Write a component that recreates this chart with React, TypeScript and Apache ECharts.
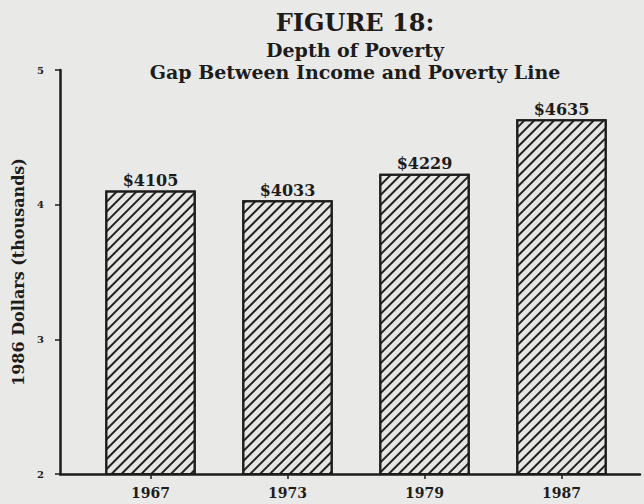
import React, { useEffect, useRef } from "react";
import * as echarts from "echarts";

// Poverty gap, 1986 dollars (thousands)
const years = ["1967", "1973", "1979", "1987"];
const gapThousands = [4.105, 4.033, 4.229, 4.635];
const gapLabels = ["$4105", "$4033", "$4229", "$4635"];
const yTicks = [2, 3, 4, 5];

const serif = "'DejaVu Serif', 'Liberation Serif', serif";
const ink = "#1c1c1c";

export default function App() {
  const ref = useRef<HTMLDivElement>(null);

  useEffect(() => {
    if (!ref.current) return;
    const chart = echarts.init(ref.current, null, { renderer: "svg" });
    chart.setOption({
      animation: false,
      backgroundColor: "#e9e9e7",
      title: [
        {
          text: "FIGURE 18:",
          left: 350,
          textAlign: "center",
          top: 5,
          textStyle: { fontFamily: serif, fontWeight: "bold", fontSize: 24, color: ink },
        },
        {
          text: "Depth of Poverty\nGap Between Income and Poverty Line",
          left: 350,
          textAlign: "center",
          top: 34,
          textStyle: {
            fontFamily: serif,
            fontWeight: "bold",
            fontSize: 19,
            lineHeight: 22,
            color: ink,
          },
        },
      ],
      grid: [
        // frame with the two axis lines
        { left: 60, right: 4, top: 70, bottom: 30 },
        // plotting band for the bars
        { left: 82, right: 14, top: 70, bottom: 30 },
      ],
      xAxis: [
        {
          gridIndex: 0,
          type: "value",
          min: 0,
          max: 1,
          axisLine: { show: true, lineStyle: { color: ink, width: 2.5 } },
          axisTick: { show: false },
          axisLabel: { show: false },
          splitLine: { show: false },
        },
        {
          gridIndex: 1,
          type: "category",
          data: years,
          axisLine: { show: false },
          axisTick: { show: true, alignWithLabel: true, length: 5, lineStyle: { color: ink, width: 1.5 } },
          axisLabel: {
            margin: 12,
            fontFamily: serif,
            fontWeight: "bold",
            fontSize: 14,
            color: ink,
          },
        },
      ],
      yAxis: [
        {
          gridIndex: 0,
          type: "value",
          min: 2,
          max: 5,
          interval: 1,
          name: "1986 Dollars (thousands)",
          nameLocation: "middle",
          nameGap: 28,
          nameTextStyle: { fontFamily: serif, fontWeight: "bold", fontSize: 16, color: ink },
          axisLine: { show: true, lineStyle: { color: ink, width: 2.5 } },
          axisTick: { show: true, length: 5, lineStyle: { color: ink, width: 1.5 } },
          axisLabel: {
            margin: 16,
            fontFamily: serif,
            fontWeight: "bold",
            fontSize: 10,
            color: ink,
            formatter: (v: number) => (yTicks.includes(v) ? String(v) : ""),
          },
          splitLine: { show: false },
        },
        {
          gridIndex: 1,
          type: "value",
          min: 2,
          max: 5,
          interval: 1,
          show: false,
        },
      ],
      series: [
        {
          type: "bar",
          xAxisIndex: 1,
          yAxisIndex: 1,
          data: gapThousands,
          barWidth: "66%",
          itemStyle: {
            color: "#e6e6e4",
            borderColor: ink,
            borderWidth: 2,
            decal: {
              symbol: "rect",
              symbolSize: 1,
              color: "#222",
              dashArrayX: [1, 0],
              dashArrayY: [2, 4.5],
              rotation: -Math.PI / 4,
            },
          },
          label: {
            show: true,
            position: "top",
            distance: 2,
            formatter: (p: any) => gapLabels[p.dataIndex],
            fontFamily: serif,
            fontWeight: "bold",
            fontSize: 16,
            color: ink,
          },
        },
      ],
    });
    return () => chart.dispose();
  }, []);

  return (
    <div
      ref={ref}
      style={{ position: "fixed", left: 0, top: 0, width: 644, height: 504 }}
    />
  );
}
